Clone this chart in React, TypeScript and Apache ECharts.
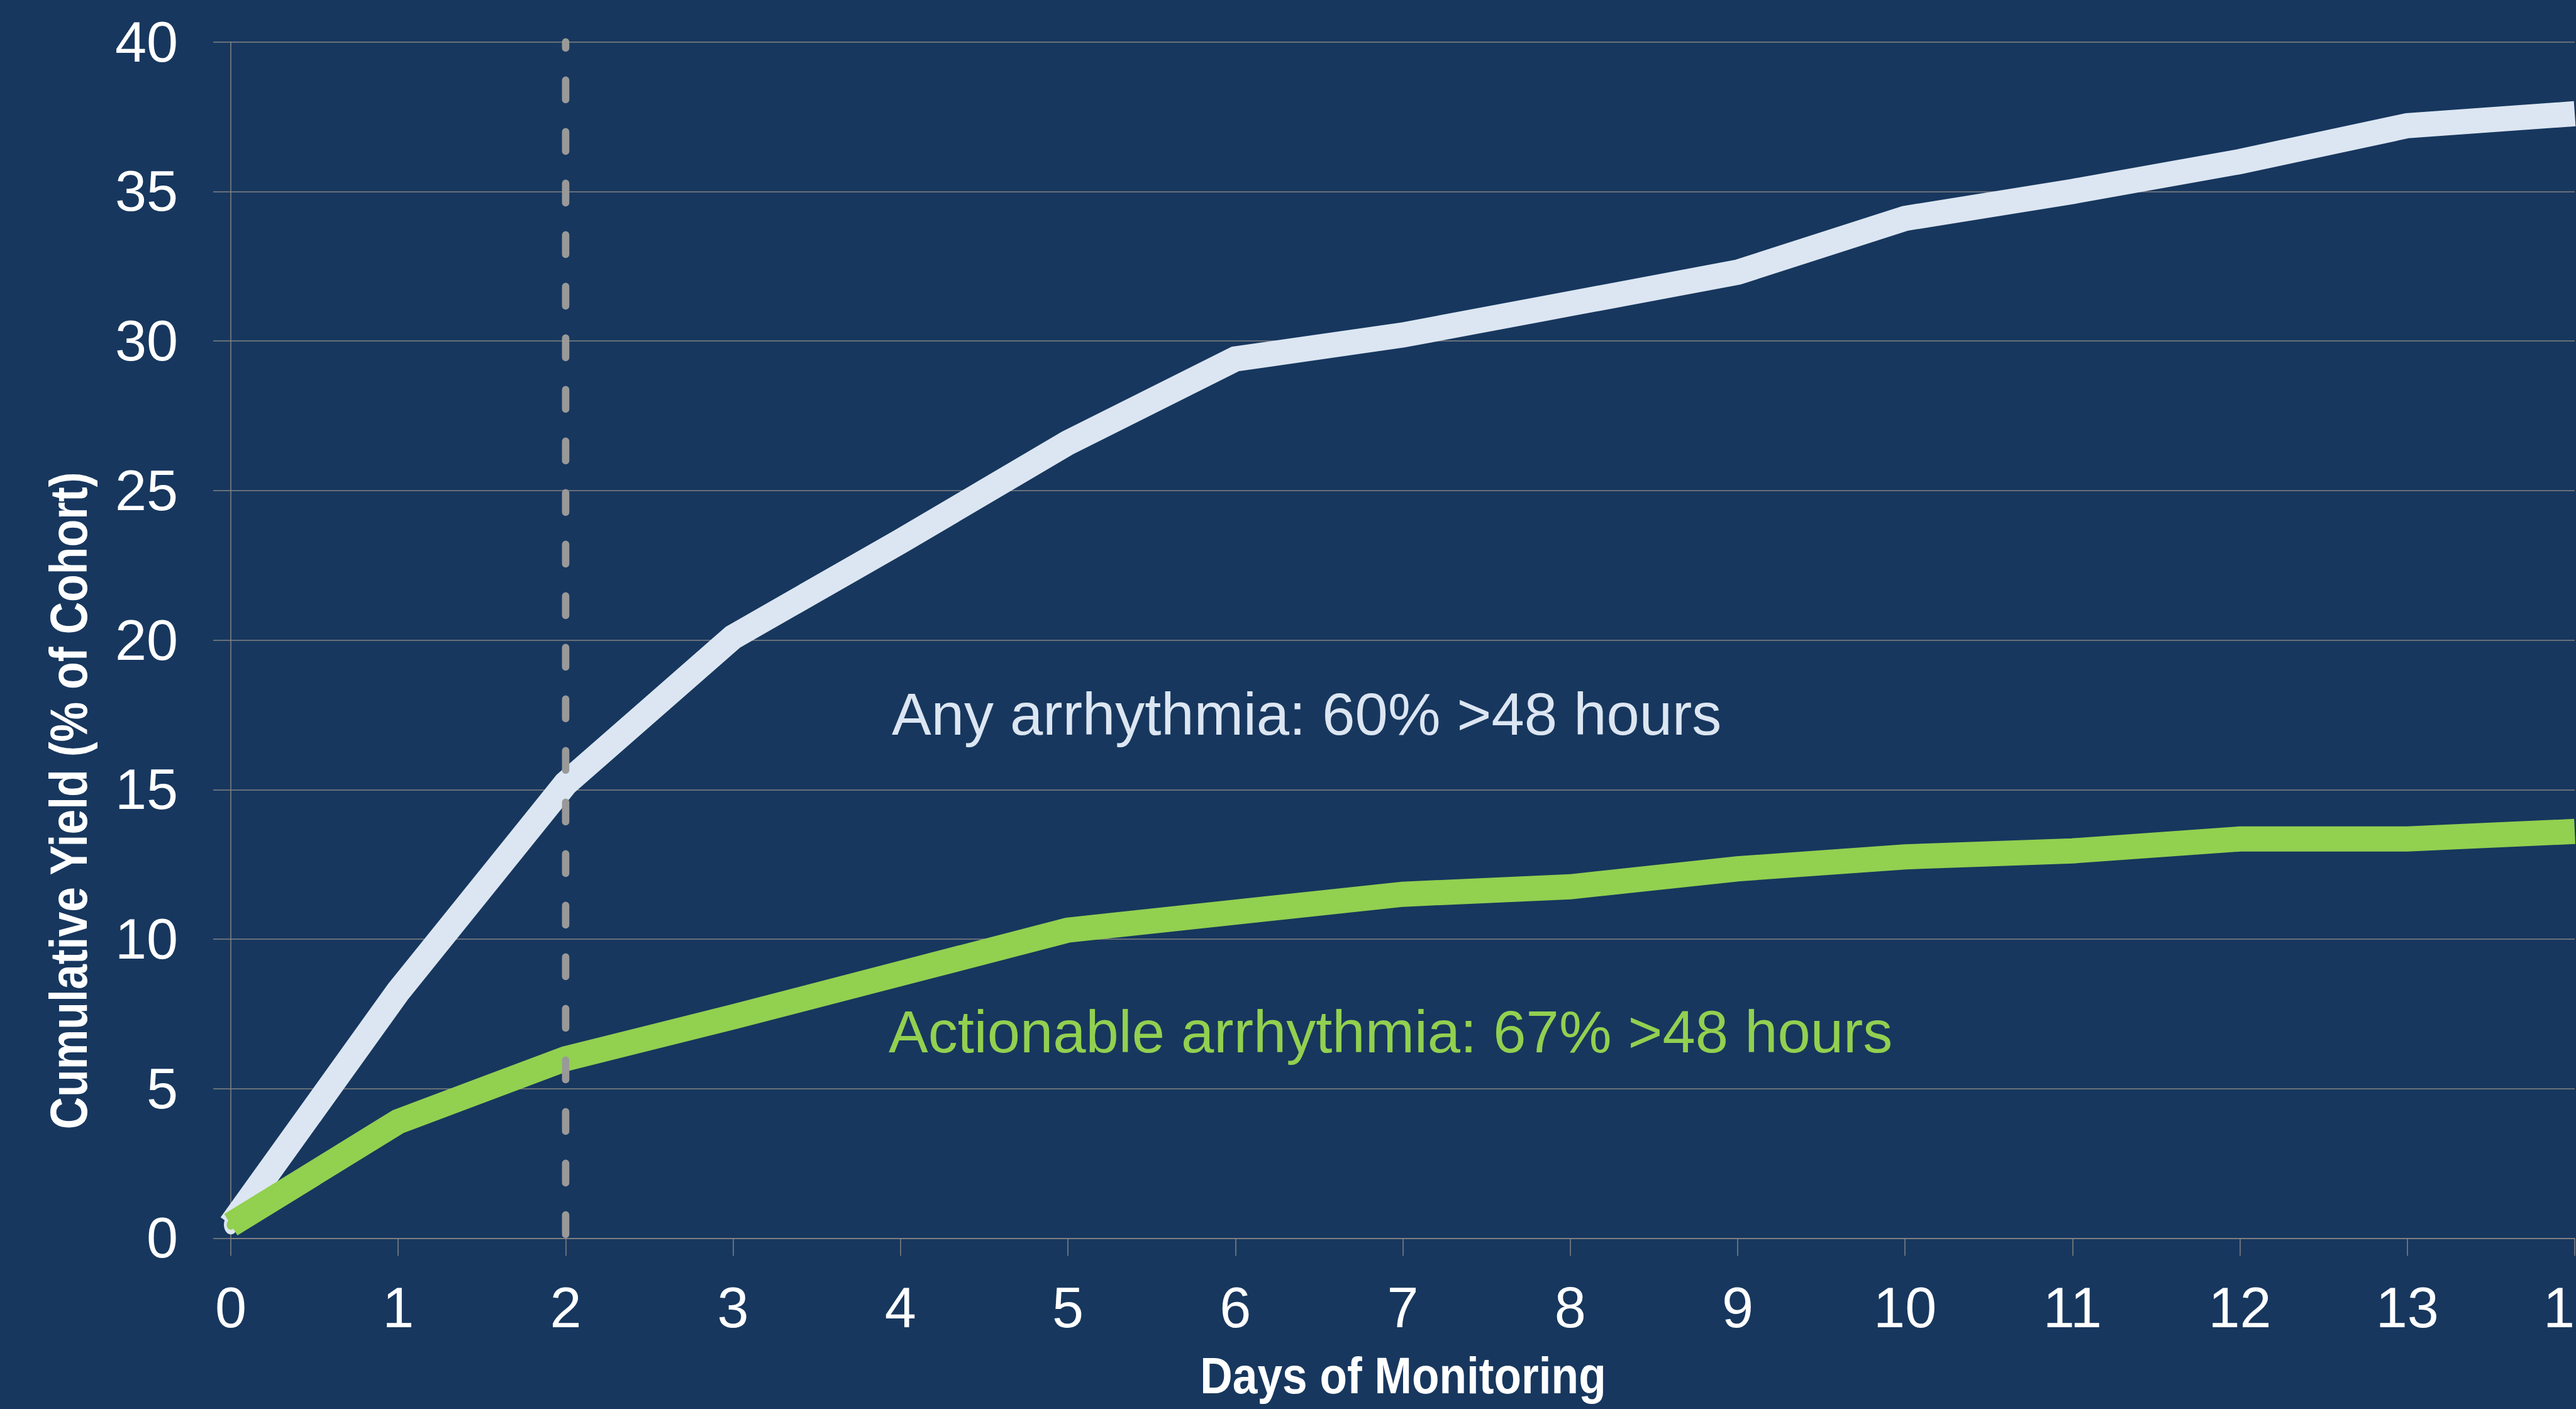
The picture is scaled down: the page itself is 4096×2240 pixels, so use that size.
import React, { useEffect, useRef } from "react";
import * as echarts from "echarts";

// ---- data ----
const days: number[] = [0, 1, 2, 3, 4, 5, 6, 7, 8, 9, 10, 11, 12, 13, 14];
const anyArrhythmia: number[] = [0.45, 8.25, 15.2, 20.1, 23.3, 26.6, 29.4, 30.2, 31.25, 32.3, 34.1, 35.0, 36.0, 37.2, 37.6];
const actionableArrhythmia: number[] = [0.45, 3.9, 6.0, 7.4, 8.85, 10.3, 10.9, 11.5, 11.75, 12.35, 12.75, 12.95, 13.35, 13.35, 13.6];
const cutoffDay = 2;
const yMin = 0;
const yMax = 40;
const yStep = 5;
const xMin = 0;
const xMax = 14;
const xStep = 1;
const xTitle = "Days of Monitoring";
const yTitle = "Cumulative Yield (% of Cohort)";
const anyLabel = "Any arrhythmia: 60% >48 hours";
const actionableLabel = "Actionable arrhythmia: 67% >48 hours";

const BG = "#17375e";
const WHITE_LINE = "#dce6f2";
const GREEN = "#92d050";
const GRID = "#858585";
const DASH = "#999999";
const FONT = '"Liberation Sans", Arial, Helvetica, sans-serif';

export default function App() {
  const ref = useRef<HTMLDivElement>(null);

  useEffect(() => {
    if (!ref.current) return;
    const chart = echarts.init(ref.current, null, { renderer: "svg" });

    const anyData = days.map((d, i) =>
      i === 0
        ? {
            value: [d, anyArrhythmia[i]],
            symbol: "circle",
            symbolSize: [22, 31],
            itemStyle: { color: WHITE_LINE },
          }
        : { value: [d, anyArrhythmia[i]] }
    );
    const actData = days.map((d, i) =>
      i === 0
        ? {
            value: [d, actionableArrhythmia[i]],
            symbol: "circle",
            symbolSize: [13, 16],
            itemStyle: { color: GREEN },
          }
        : { value: [d, actionableArrhythmia[i]] }
    );

    const texts: any[] = [
      {
        id: "ytitle",
        type: "text",
        x: 109.5,
        y: 1273,
        rotation: Math.PI / 2,
        scaleX: 0.862,
        silent: true,
        style: {
          text: yTitle,
          fill: "#ffffff",
          fontSize: 83,
          fontWeight: "bold",
          fontFamily: FONT,
          align: "center",
          verticalAlign: "middle",
        },
      },
      {
        id: "xtitle",
        type: "text",
        x: 2231,
        y: 2187,
        scaleX: 0.88,
        silent: true,
        style: {
          text: xTitle,
          fill: "#ffffff",
          fontSize: 81,
          fontWeight: "bold",
          fontFamily: FONT,
          align: "center",
          verticalAlign: "middle",
        },
      },
      {
        id: "anyLabel",
        type: "text",
        x: 1418,
        y: 1135,
        silent: true,
        style: {
          text: anyLabel,
          fill: WHITE_LINE,
          fontSize: 94,
          fontFamily: FONT,
          align: "left",
          verticalAlign: "middle",
        },
      },
      {
        id: "actLabel",
        type: "text",
        x: 1413,
        y: 1640,
        silent: true,
        style: {
          text: actionableLabel,
          fill: GREEN,
          fontSize: 94,
          fontFamily: FONT,
          align: "left",
          verticalAlign: "middle",
        },
      },
    ];

    const option: any = {
      animation: false,
      backgroundColor: BG,
      grid: {
        left: 367,
        right: 2,
        top: 66.7,
        bottom: 271.6,
        containLabel: false,
        outerBoundsMode: "none",
      },
      xAxis: {
        type: "value",
        min: xMin,
        max: xMax,
        interval: xStep,
        axisLine: { show: true, lineStyle: { color: GRID, width: 1.5 } },
        axisTick: { show: true, length: 28, inside: false, lineStyle: { color: GRID, width: 1.5 } },
        splitLine: { show: false },
        axisLabel: {
          color: "#ffffff",
          fontSize: 90,
          fontFamily: FONT,
          margin: 66,
          showMaxLabel: true,
          showMinLabel: true,
          hideOverlap: false,
        },
      },
      yAxis: {
        type: "value",
        min: yMin,
        max: yMax,
        interval: yStep,
        axisLine: { show: true, lineStyle: { color: GRID, width: 1.5 } },
        axisTick: { show: true, length: 28, inside: false, lineStyle: { color: GRID, width: 1.5 } },
        splitLine: { show: true, lineStyle: { color: GRID, width: 1.5 } },
        axisLabel: {
          color: "#ffffff",
          fontSize: 90,
          fontFamily: FONT,
          margin: 84,
        },
      },
      series: [
        {
          name: "Any arrhythmia",
          type: "line",
          data: anyData,
          symbol: "none",
          clip: true,
          lineStyle: { color: WHITE_LINE, width: 40, join: "miter", cap: "butt" },
          itemStyle: { color: WHITE_LINE },
          z: 3,
          silent: true,
        },
        {
          name: "Actionable arrhythmia",
          type: "line",
          data: actData,
          symbol: "none",
          clip: true,
          lineStyle: { color: GREEN, width: 40, join: "miter", cap: "butt" },
          itemStyle: { color: GREEN },
          z: 4,
          silent: true,
        },
      ],
      graphic: texts,
    };

    chart.setOption(option);

    // vertical 48-hour cut-off line, positioned through the chart's own scales
    const pBottom = chart.convertToPixel({ gridIndex: 0 }, [cutoffDay, yMin]) as number[];
    const pTop = chart.convertToPixel({ gridIndex: 0 }, [cutoffDay, yMax]) as number[];
    const dashLen = 31;
    const gapLen = 51;
    const capR = 6;
    chart.setOption({
      graphic: [
        ...texts,
        {
          id: "cutoff",
          type: "line",
          silent: true,
          z: 50,
          shape: { x1: pBottom[0], y1: pBottom[1], x2: pTop[0], y2: pTop[1] },
          style: {
            stroke: DASH,
            lineWidth: 11.7,
            lineDash: [dashLen, gapLen],
            lineDashOffset: dashLen + gapLen - capR,
            lineCap: "round",
          },
        },
      ],
    });

    return () => {
      chart.dispose();
    };
  }, []);

  return (
    <div
      ref={ref}
      style={{
        position: "fixed",
        left: 0,
        top: 0,
        width: 4096,
        height: 2240,
        background: BG,
      }}
    />
  );
}
